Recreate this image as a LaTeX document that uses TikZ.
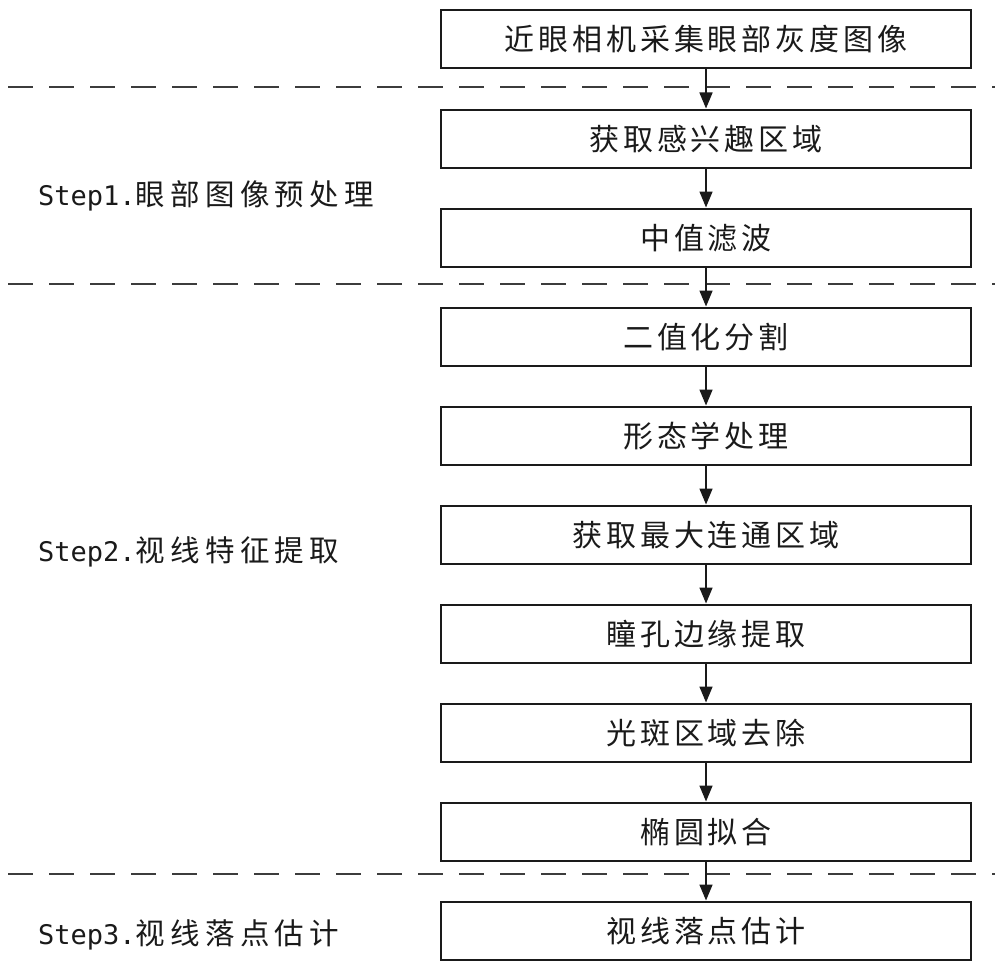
\documentclass[tikz,border=0pt]{standalone}
\usepackage{fontspec}
\usetikzlibrary{arrows.meta}
\newfontfamily\boxcjk[LetterSpace=13]{Noto Sans CJK SC}
\newfontfamily\labcjk[LetterSpace=18]{Noto Sans CJK SC}
\newfontfamily\labmono{DejaVu Sans Mono}
\definecolor{ink}{HTML}{1A1A1A}
\tikzset{
  stepbox/.style={draw=ink, line width=2pt, minimum width=530pt, minimum height=58pt,
    inner sep=0pt, font=\boxcjk\fontsize{30}{30}\selectfont, text=ink},
  flow/.style={draw=ink, line width=1.6pt, -{Triangle[length=16pt,width=13pt]}, shorten >=0.5pt},
  sep/.style={draw=ink!85, line width=2.4pt, dash pattern=on 25pt off 16pt},
  steplabel/.style={anchor=west, inner sep=0pt, text=ink}
}
\begin{document}
\begin{tikzpicture}[x=1pt,y=-1pt]
\useasboundingbox (0,0) rectangle (1000,971);
\fill[white] (0,0) rectangle (1000,971);
\node[stepbox] (b1) at (706,39) {近眼相机采集眼部灰度图像};
\node[stepbox] (b2) at (706,139) {获取感兴趣区域};
\node[stepbox] (b3) at (706,238) {中值滤波};
\node[stepbox] (b4) at (706,337) {二值化分割};
\node[stepbox] (b5) at (706,436) {形态学处理};
\node[stepbox] (b6) at (706,535) {获取最大连通区域};
\node[stepbox] (b7) at (706,634) {瞳孔边缘提取};
\node[stepbox] (b8) at (706,733) {光斑区域去除};
\node[stepbox] (b9) at (706,832) {椭圆拟合};
\node[stepbox] (b10) at (706,931) {视线落点估计};
\draw[sep] (8,87) -- (995,87);
\draw[sep] (8,284) -- (995,284);
\draw[sep] (8,874) -- (995,874);
\foreach \a/\b in {b1/b2,b2/b3,b3/b4,b4/b5,b5/b6,b6/b7,b7/b8,b8/b9,b9/b10}
  \draw[flow] (\a.south) -- (\b.north);
\node[steplabel] (s1) at (38,196) {{\labmono\fontsize{27}{27}\selectfont Step1.}{\labcjk\fontsize{29.5}{30}\selectfont 眼部图像预处理}};
\node[steplabel] (s2) at (38,552) {{\labmono\fontsize{27}{27}\selectfont Step2.}{\labcjk\fontsize{29.5}{30}\selectfont 视线特征提取}};
\node[steplabel] (s3) at (38,935) {{\labmono\fontsize{27}{27}\selectfont Step3.}{\labcjk\fontsize{29.5}{30}\selectfont 视线落点估计}};
\end{tikzpicture}
\end{document}
